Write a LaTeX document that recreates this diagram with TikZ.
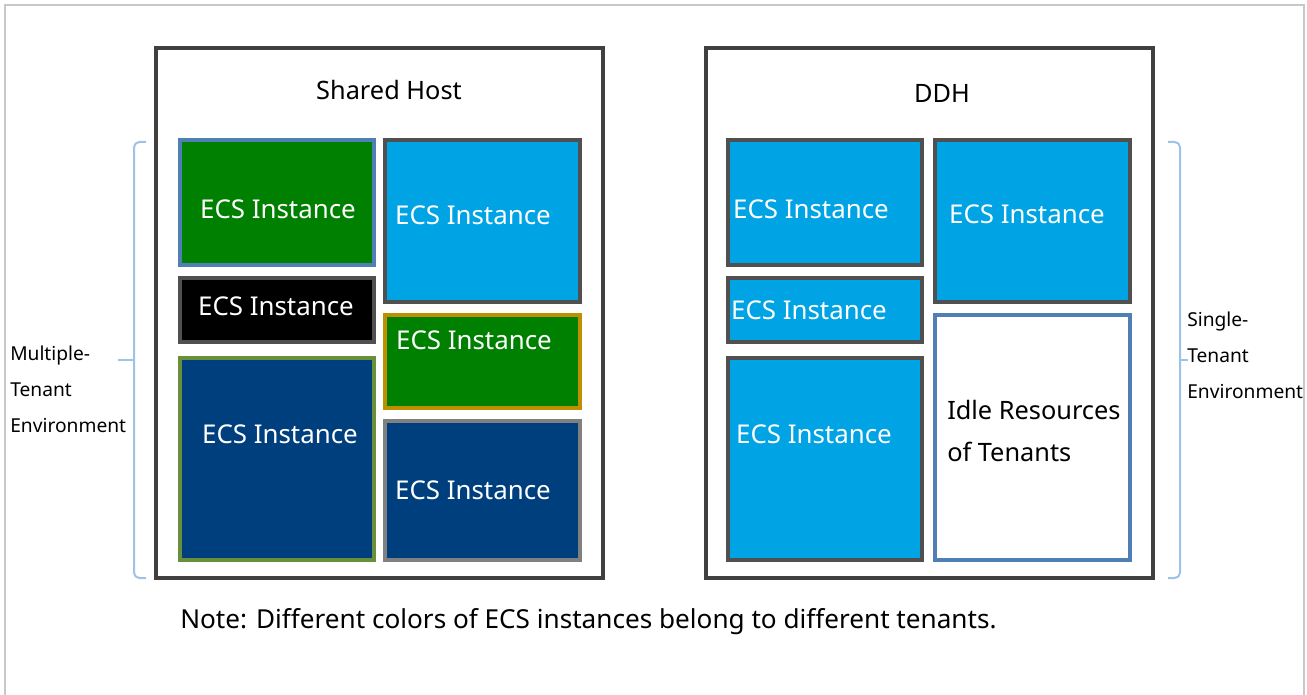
\documentclass[tikz,border=0pt]{standalone}
\usepackage{fontspec}
\setmainfont{Noto Sans}
\definecolor{framegray}{HTML}{C8C8C8}
\definecolor{hostgray}{HTML}{404040}
\definecolor{edgegray}{HTML}{505050}
\definecolor{ecsgreen}{HTML}{008000}
\definecolor{ecscyan}{HTML}{00A3E4}
\definecolor{ecsnavy}{HTML}{003F7E}
\definecolor{edgeblue}{HTML}{4F7FB5}
\definecolor{edgegold}{HTML}{BF8F00}
\definecolor{edgeolive}{HTML}{6A8F3A}
\definecolor{edgemid}{HTML}{808080}
\definecolor{bracketblue}{HTML}{9DC3E6}
\begin{document}
\begin{tikzpicture}[x=0.75pt,y=-0.75pt,
  host/.style={draw=hostgray, line width=2.5pt},
  inst/.style={line width=2.6pt},
  lbl/.style={text=white, font=\fontsize{19.4}{23}\selectfont, inner sep=0pt},
  title/.style={font=\fontsize{19}{23}\selectfont, inner sep=0pt},
  side/.style={font=\fontsize{14.4}{27}\selectfont, align=left, anchor=west, inner sep=0pt},
  brace/.style={draw=bracketblue, line width=1.5pt, rounded corners=4pt}]

 \useasboundingbox (0,0) rectangle (1307,695);
 \draw[framegray, line width=1.5pt] (5,695)--(5,5)--(1304,5)--(1304,695);

 % shared host
 \draw[host] (156,48) rectangle (603,578);
 \node[title] (shared) at (389,90){Shared Host};
 \draw[inst, draw=edgeblue, fill=ecsgreen] (180,140) rectangle (374,265);
 \draw[inst, draw=edgegray, fill=black] (180,278) rectangle (374,342);
 \draw[inst, draw=edgeolive, fill=ecsnavy] (180,358) rectangle (374,560);
 \draw[inst, draw=edgegray, fill=ecscyan] (385,140) rectangle (580,302);
 \draw[inst, draw=edgegold, fill=ecsgreen] (385,315) rectangle (580,408);
 \draw[inst, draw=edgemid, fill=ecsnavy] (385,421) rectangle (580,560);
 \node[lbl] (sa) at (278,209){ECS Instance};
 \node[lbl] (sb) at (276,306){ECS Instance};
 \node[lbl] (sc) at (280,434){ECS Instance};
 \node[lbl] (sd) at (473,215){ECS Instance};
 \node[lbl] (se) at (474,340){ECS Instance};
 \node[lbl] (sf) at (473,490){ECS Instance};

 % dedicated host
 \draw[host] (706,48) rectangle (1153,578);
 \node[title] (ddh) at (942,93){DDH};
 \draw[inst, draw=edgegray, fill=ecscyan] (728,140) rectangle (922,265);
 \draw[inst, draw=edgegray, fill=ecscyan] (728,278) rectangle (922,342);
 \draw[inst, draw=edgegray, fill=ecscyan] (728,358) rectangle (922,560);
 \draw[inst, draw=edgegray, fill=ecscyan] (935,140) rectangle (1130,302);
 \draw[inst, draw=edgeblue, fill=white] (935,315) rectangle (1130,560);
 \node[lbl] (da) at (811,209){ECS Instance};
 \node[lbl] (db) at (809,310){ECS Instance};
 \node[lbl] (dc) at (814,434){ECS Instance};
 \node[lbl] (dd) at (1027,214){ECS Instance};
 \node[title, align=left, anchor=west, font=\fontsize{19}{32}\selectfont] (idle) at (947,431){Idle Resources\\of Tenants};

 % brackets
 \draw[brace] (146,142)--(134,142)--(134,578)--(146,578);
 \draw[brace] (134,360)--(118,360);
 \draw[brace] (1168,142)--(1180,142)--(1180,578)--(1168,578);
 \draw[brace] (1180,360)--(1188,360);
 \node[side] (multi) at (10,389){Multiple-\\Tenant\\Environment};
 \node[side] (single) at (1187,355){Single-\\Tenant\\Environment};

 \node[title, anchor=west, font=\fontsize{19.6}{23}\selectfont] (note) at (180,622){Note: Different colors of ECS instances belong to different tenants.};

\end{tikzpicture}
\end{document}
